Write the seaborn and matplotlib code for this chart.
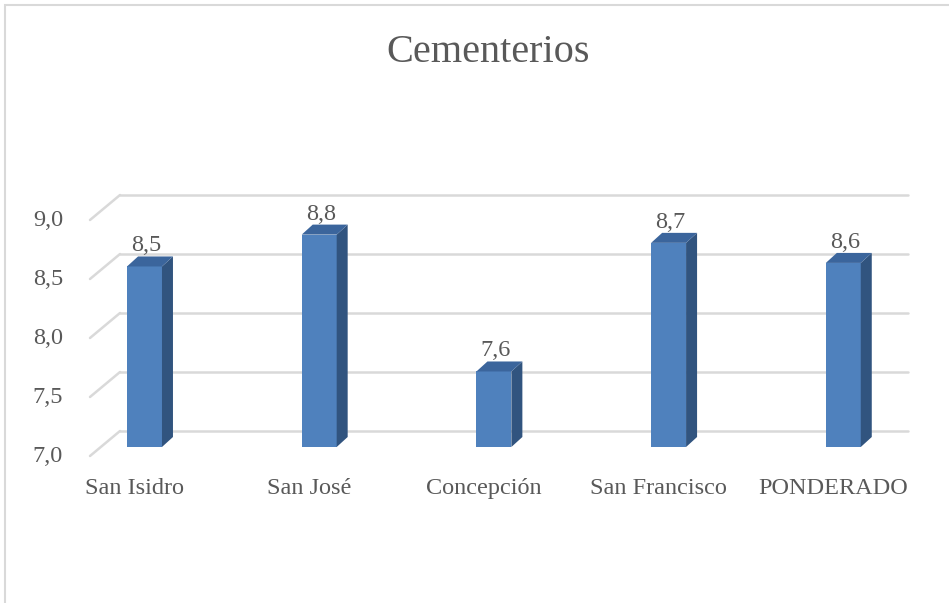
import matplotlib
matplotlib.use("Agg")
import matplotlib.pyplot as plt
from matplotlib.lines import Line2D
from matplotlib.patches import Polygon, Rectangle
from matplotlib.transforms import IdentityTransform
import seaborn as sns
import pandas as pd

categories = ["San Isidro", "San José", "Concepción", "San Francisco", "PONDERADO"]
values = [8.53, 8.80, 7.64, 8.73, 8.56]
y_ticks = [7.0, 7.5, 8.0, 8.5, 9.0]
title = "Cementerios"

sns.set_theme(style="white")
plt.rcParams["font.family"] = ["Liberation Serif", "DejaVu Serif"]

TEXT = "#595959"
GRID = "#d9d9d9"
FRONT = "#4f81bd"
SIDE = "#31547f"
TOP = "#3b659c"

W, H = 949, 603
fig = plt.figure(figsize=(W / 100, H / 100), dpi=100)
fig.patch.set_facecolor("white")

# axes frame = plane of the bar fronts
ax_left, ax_right = 90, 908
ax_bottom_px, ax_top_px = 447, 211
ax = fig.add_axes([ax_left / W, (H - ax_bottom_px) / H,
                   (ax_right - ax_left) / W, (ax_bottom_px - ax_top_px) / H])
ax.set_facecolor("none")

df = pd.DataFrame({"cat": categories, "val": values})
slot = 174.7
x_lo = (ax_left - 144.5) / slot
x_hi = (ax_right - 144.5) / slot

# bars rise from the floor at 7.0
sns.barplot(data=df, x="cat", y=[v - 7.0 for v in values], bottom=7.0,
            color=FRONT, saturation=1, width=0.2, ax=ax, zorder=3,
            linewidth=0, order=categories)
ax.set_xlim(x_lo, x_hi)
ax.set_ylim(7.0, 9.0)
ax.axis("off")

ident = IdentityTransform()
to_disp = ax.transData.transform

# back wall gridlines and left wall diagonals
back_dy = 16      # back wall lifted above the bar plane (px)
front_dy = -9     # left wall front edge below the bar plane (px)
wall_x = 120
for v in y_ticks:
    _, yd = to_disp((0, v))
    fig.add_artist(Line2D([wall_x, ax_right], [yd + back_dy, yd + back_dy],
                          transform=ident, color=GRID, lw=1.8, zorder=0))
    fig.add_artist(Line2D([ax_left, wall_x], [yd + front_dy, yd + back_dy],
                          transform=ident, color=GRID, lw=1.8, zorder=0))
    fig.text(63 / W, (yd + front_dy - 6) / H, f"{v:.1f}".replace(".", ","),
             ha="right", va="baseline", fontsize=17.5, color=TEXT)

# depth faces of each column
dx, dy = 11, 10
for bar, v, name in zip(ax.patches, values, categories):
    x0, y0 = to_disp((bar.get_x(), 7.0))
    x1, y1 = to_disp((bar.get_x() + bar.get_width(), v))
    side = Polygon([(x1, y0), (x1 + dx, y0 + dy), (x1 + dx, y1 + dy), (x1, y1)],
                   closed=True, transform=ident, facecolor=SIDE,
                   edgecolor="none", zorder=4)
    top = Polygon([(x0, y1), (x1, y1), (x1 + dx, y1 + dy), (x0 + dx, y1 + dy)],
                  closed=True, transform=ident, facecolor=TOP,
                  edgecolor="none", zorder=4)
    fig.add_artist(side)
    fig.add_artist(top)
    cx = (x0 + x1) / 2
    fig.text((cx + 2) / W, (y1 + dy + 5) / H, f"{v:.1f}".replace(".", ","),
             ha="center", va="baseline", fontsize=17.5, color=TEXT, zorder=5)
    fig.text((cx - 10) / W, (H - 494) / H, name,
             ha="center", va="baseline", fontsize=17.5, color=TEXT)

fig.text(488 / W, (H - 62) / H, title, ha="center", va="baseline",
         fontsize=29, color=TEXT)

# chart frame
fig.add_artist(Rectangle((5, -10), W + 20, H - 5 + 10, transform=ident,
                         fill=False, edgecolor="#d9d9d9", lw=1.5))

fig.savefig("out.png", dpi=100)
